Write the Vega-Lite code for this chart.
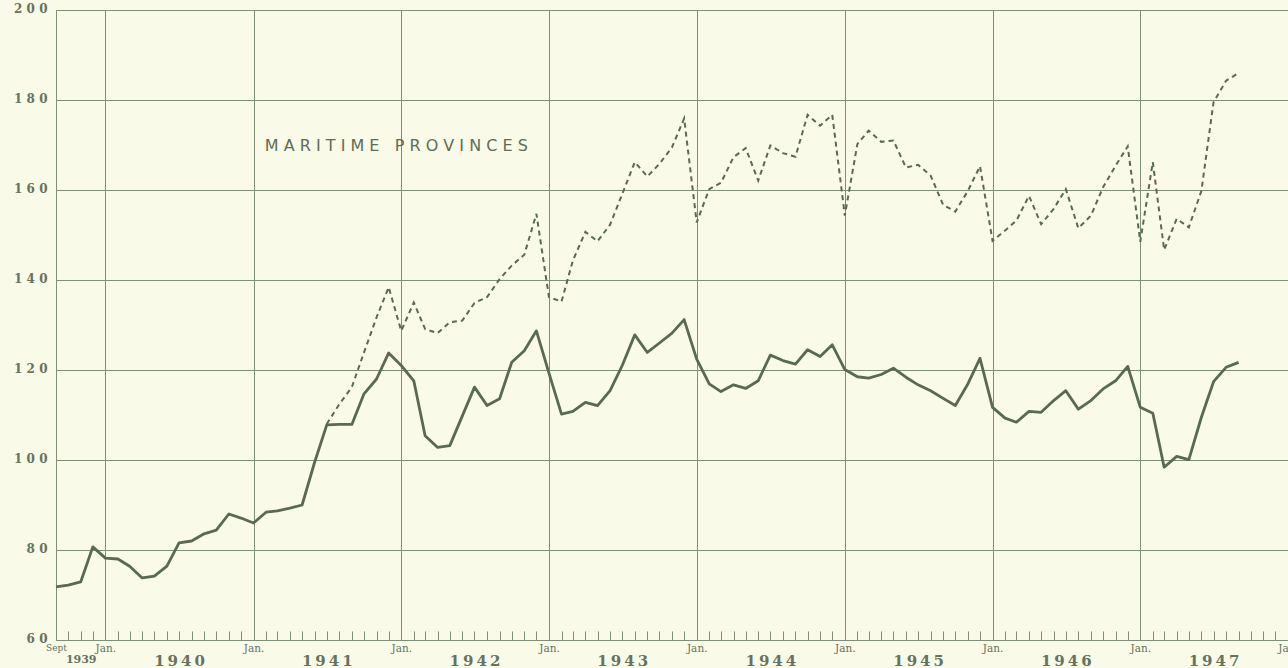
{
  "$schema": "https://vega.github.io/schema/vega-lite/v6.json",
  "width": 1232,
  "height": 630,
  "autosize": {"type": "none"},
  "padding": {"left": 56, "top": 10, "right": 0, "bottom": 28},
  "background": "#f9fae8",
  "config": {"view": {"stroke": null}},
  "datasets": {
    "canada": [
      {"date": "1939-09-01", "value": 71.8},
      {"date": "1939-10-01", "value": 72.2},
      {"date": "1939-11-01", "value": 72.9},
      {"date": "1939-12-01", "value": 80.7},
      {"date": "1940-01-01", "value": 78.2},
      {"date": "1940-02-01", "value": 78.0},
      {"date": "1940-03-01", "value": 76.4},
      {"date": "1940-04-01", "value": 73.8},
      {"date": "1940-05-01", "value": 74.2},
      {"date": "1940-06-01", "value": 76.4},
      {"date": "1940-07-01", "value": 81.6},
      {"date": "1940-08-01", "value": 82.0},
      {"date": "1940-09-01", "value": 83.6},
      {"date": "1940-10-01", "value": 84.4},
      {"date": "1940-11-01", "value": 88.0},
      {"date": "1940-12-01", "value": 87.1},
      {"date": "1941-01-01", "value": 86.0},
      {"date": "1941-02-01", "value": 88.4},
      {"date": "1941-03-01", "value": 88.7},
      {"date": "1941-04-01", "value": 89.3},
      {"date": "1941-05-01", "value": 90.0},
      {"date": "1941-06-01", "value": 99.5},
      {"date": "1941-07-01", "value": 107.8},
      {"date": "1941-08-01", "value": 107.9},
      {"date": "1941-09-01", "value": 107.9},
      {"date": "1941-10-01", "value": 114.7},
      {"date": "1941-11-01", "value": 118.0},
      {"date": "1941-12-01", "value": 123.8},
      {"date": "1942-01-01", "value": 121.0},
      {"date": "1942-02-01", "value": 117.6},
      {"date": "1942-03-01", "value": 105.4},
      {"date": "1942-04-01", "value": 102.8},
      {"date": "1942-05-01", "value": 103.2},
      {"date": "1942-06-01", "value": 109.8},
      {"date": "1942-07-01", "value": 116.2},
      {"date": "1942-08-01", "value": 112.1},
      {"date": "1942-09-01", "value": 113.6},
      {"date": "1942-10-01", "value": 121.7},
      {"date": "1942-11-01", "value": 124.3},
      {"date": "1942-12-01", "value": 128.7},
      {"date": "1943-01-01", "value": 119.3},
      {"date": "1943-02-01", "value": 110.2},
      {"date": "1943-03-01", "value": 110.8},
      {"date": "1943-04-01", "value": 112.8},
      {"date": "1943-05-01", "value": 112.1},
      {"date": "1943-06-01", "value": 115.4},
      {"date": "1943-07-01", "value": 121.0},
      {"date": "1943-08-01", "value": 127.8},
      {"date": "1943-09-01", "value": 123.9},
      {"date": "1943-10-01", "value": 126.0},
      {"date": "1943-11-01", "value": 128.2},
      {"date": "1943-12-01", "value": 131.2},
      {"date": "1944-01-01", "value": 122.4},
      {"date": "1944-02-01", "value": 116.9},
      {"date": "1944-03-01", "value": 115.2},
      {"date": "1944-04-01", "value": 116.7},
      {"date": "1944-05-01", "value": 115.9},
      {"date": "1944-06-01", "value": 117.6},
      {"date": "1944-07-01", "value": 123.3},
      {"date": "1944-08-01", "value": 122.1},
      {"date": "1944-09-01", "value": 121.3},
      {"date": "1944-10-01", "value": 124.5},
      {"date": "1944-11-01", "value": 123.0},
      {"date": "1944-12-01", "value": 125.6},
      {"date": "1945-01-01", "value": 120.1},
      {"date": "1945-02-01", "value": 118.5},
      {"date": "1945-03-01", "value": 118.2},
      {"date": "1945-04-01", "value": 119.0},
      {"date": "1945-05-01", "value": 120.4},
      {"date": "1945-06-01", "value": 118.4},
      {"date": "1945-07-01", "value": 116.7},
      {"date": "1945-08-01", "value": 115.4},
      {"date": "1945-09-01", "value": 113.7},
      {"date": "1945-10-01", "value": 112.1},
      {"date": "1945-11-01", "value": 116.9},
      {"date": "1945-12-01", "value": 122.6},
      {"date": "1946-01-01", "value": 111.7},
      {"date": "1946-02-01", "value": 109.3},
      {"date": "1946-03-01", "value": 108.4},
      {"date": "1946-04-01", "value": 110.8},
      {"date": "1946-05-01", "value": 110.6},
      {"date": "1946-06-01", "value": 113.2},
      {"date": "1946-07-01", "value": 115.4},
      {"date": "1946-08-01", "value": 111.3},
      {"date": "1946-09-01", "value": 113.2},
      {"date": "1946-10-01", "value": 115.8},
      {"date": "1946-11-01", "value": 117.6},
      {"date": "1946-12-01", "value": 120.8},
      {"date": "1947-01-01", "value": 111.7},
      {"date": "1947-02-01", "value": 110.4},
      {"date": "1947-03-01", "value": 98.4},
      {"date": "1947-04-01", "value": 100.8},
      {"date": "1947-05-01", "value": 100.1},
      {"date": "1947-06-01", "value": 109.5},
      {"date": "1947-07-01", "value": 117.4},
      {"date": "1947-08-01", "value": 120.6},
      {"date": "1947-09-01", "value": 121.7}
    ],
    "maritime": [
      {"date": "1941-07-01", "value": 108.0},
      {"date": "1941-08-01", "value": 112.4},
      {"date": "1941-09-01", "value": 116.2},
      {"date": "1941-10-01", "value": 123.9},
      {"date": "1941-11-01", "value": 131.7},
      {"date": "1941-12-01", "value": 138.4},
      {"date": "1942-01-01", "value": 128.7},
      {"date": "1942-02-01", "value": 135.0},
      {"date": "1942-03-01", "value": 129.1},
      {"date": "1942-04-01", "value": 128.2},
      {"date": "1942-05-01", "value": 130.6},
      {"date": "1942-06-01", "value": 131.0},
      {"date": "1942-07-01", "value": 134.9},
      {"date": "1942-08-01", "value": 136.2},
      {"date": "1942-09-01", "value": 140.2},
      {"date": "1942-10-01", "value": 143.2},
      {"date": "1942-11-01", "value": 145.6},
      {"date": "1942-12-01", "value": 154.7},
      {"date": "1943-01-01", "value": 136.2},
      {"date": "1943-02-01", "value": 135.2},
      {"date": "1943-03-01", "value": 144.3},
      {"date": "1943-04-01", "value": 150.7},
      {"date": "1943-05-01", "value": 148.6},
      {"date": "1943-06-01", "value": 152.3},
      {"date": "1943-07-01", "value": 159.1},
      {"date": "1943-08-01", "value": 166.2},
      {"date": "1943-09-01", "value": 163.0},
      {"date": "1943-10-01", "value": 165.8},
      {"date": "1943-11-01", "value": 169.5},
      {"date": "1943-12-01", "value": 175.9},
      {"date": "1944-01-01", "value": 152.8},
      {"date": "1944-02-01", "value": 160.2},
      {"date": "1944-03-01", "value": 161.6},
      {"date": "1944-04-01", "value": 167.3},
      {"date": "1944-05-01", "value": 169.3},
      {"date": "1944-06-01", "value": 162.1},
      {"date": "1944-07-01", "value": 169.9},
      {"date": "1944-08-01", "value": 168.2},
      {"date": "1944-09-01", "value": 167.4},
      {"date": "1944-10-01", "value": 176.7},
      {"date": "1944-11-01", "value": 174.3},
      {"date": "1944-12-01", "value": 176.7},
      {"date": "1945-01-01", "value": 154.3},
      {"date": "1945-02-01", "value": 170.2},
      {"date": "1945-03-01", "value": 173.2},
      {"date": "1945-04-01", "value": 170.7},
      {"date": "1945-05-01", "value": 171.0},
      {"date": "1945-06-01", "value": 165.0},
      {"date": "1945-07-01", "value": 165.6},
      {"date": "1945-08-01", "value": 163.2},
      {"date": "1945-09-01", "value": 156.7},
      {"date": "1945-10-01", "value": 155.2},
      {"date": "1945-11-01", "value": 159.8},
      {"date": "1945-12-01", "value": 165.3},
      {"date": "1946-01-01", "value": 148.7},
      {"date": "1946-02-01", "value": 151.0},
      {"date": "1946-03-01", "value": 153.2},
      {"date": "1946-04-01", "value": 158.7},
      {"date": "1946-05-01", "value": 152.4},
      {"date": "1946-06-01", "value": 155.8},
      {"date": "1946-07-01", "value": 160.2},
      {"date": "1946-08-01", "value": 151.5},
      {"date": "1946-09-01", "value": 154.3},
      {"date": "1946-10-01", "value": 160.6},
      {"date": "1946-11-01", "value": 165.4},
      {"date": "1946-12-01", "value": 169.7},
      {"date": "1947-01-01", "value": 148.5},
      {"date": "1947-02-01", "value": 166.2},
      {"date": "1947-03-01", "value": 146.7},
      {"date": "1947-04-01", "value": 153.6},
      {"date": "1947-05-01", "value": 151.7},
      {"date": "1947-06-01", "value": 159.8},
      {"date": "1947-07-01", "value": 179.5},
      {"date": "1947-08-01", "value": 184.3},
      {"date": "1947-09-01", "value": 186.0}
    ],
    "notes": [
      {"date": "1941-01-29", "value": 169.8, "label": "M A R I T I M E\u00a0\u00a0\u00a0P R O V I N C E S"}
    ]
  },
  "resolve": {"axis": {"x": "independent"}},
  "layer": [
    {
      "data": {"name": "canada"},
      "mark": {"type": "line", "color": "#5a6954", "strokeWidth": 2.8, "strokeJoin": "round"},
      "encoding": {
        "x": {
          "field": "date", "type": "temporal",
          "scale": {"type": "utc", "nice": false, "domain": [{"year": 1939, "month": 9, "date": 1, "utc": true}, {"year": 1948, "month": 1, "date": 1, "utc": true}]},
          "axis": {"orient": "bottom", "title": null, "tickCount": {"interval": "month", "step": 1}, "tickSize": -9, "tickColor": "#7f8e77", "tickWidth": 1, "labels": false, "grid": false, "domain": true, "domainColor": "#7f8e77", "domainWidth": 1}
        },
        "y": {
          "field": "value", "type": "quantitative",
          "scale": {"domain": [60, 200], "nice": false, "zero": false},
          "axis": {"title": null, "values": [60, 80, 100, 120, 140, 160, 180, 200], "grid": true, "gridColor": "#7f8e77", "gridWidth": 1, "ticks": false, "domain": true, "domainColor": "#7f8e77", "labelPadding": 9, "labelFont": "DejaVu Serif", "labelFontWeight": "bold", "labelFontSize": 12, "labelColor": "#66735f", "labelOffset": -2, "labelExpr": "join(split(datum.label, ''), '\u00a0')"}
        }
      }
    },
    {
      "data": {"name": "maritime"},
      "mark": {"type": "line", "color": "#5a6954", "strokeWidth": 2, "strokeDash": [5, 4]},
      "encoding": {
        "x": {
          "field": "date", "type": "temporal",
          "axis": {"orient": "bottom", "title": null, "values": [
            {"year": 1939, "month": 9, "date": 1, "utc": true},
            {"year": 1940, "month": 1, "date": 1, "utc": true},
            {"year": 1941, "month": 1, "date": 1, "utc": true},
            {"year": 1942, "month": 1, "date": 1, "utc": true},
            {"year": 1943, "month": 1, "date": 1, "utc": true},
            {"year": 1944, "month": 1, "date": 1, "utc": true},
            {"year": 1945, "month": 1, "date": 1, "utc": true},
            {"year": 1946, "month": 1, "date": 1, "utc": true},
            {"year": 1947, "month": 1, "date": 1, "utc": true},
            {"year": 1948, "month": 1, "date": 1, "utc": true}
          ], "grid": true, "gridColor": "#7f8e77", "gridWidth": 1, "ticks": false, "domain": false, "labelFlush": false, "labelOverlap": false, "labelBound": false, "labelPadding": 3, "labelFont": "DejaVu Serif", "labelColor": "#66735f", "labelFontSize": {"condition": {"test": "utcmonth(datum.value) == 8", "value": 9}, "value": 10.5}, "labelExpr": "utcmonth(datum.value) == 8 ? 'Sept' : 'Jan.'"}
        },
        "y": {"field": "value", "type": "quantitative"}
      }
    },
    {
      "data": {"name": "notes"},
      "mark": {"type": "text", "align": "left", "baseline": "middle", "font": "DejaVu Sans", "fontSize": 16, "color": "#5f6d58"},
      "encoding": {
        "x": {
          "field": "date", "type": "temporal",
          "axis": {"orient": "bottom", "title": null, "values": [
            {"year": 1939, "month": 11, "date": 1, "utc": true},
            {"year": 1940, "month": 7, "date": 1, "utc": true},
            {"year": 1941, "month": 7, "date": 1, "utc": true},
            {"year": 1942, "month": 7, "date": 1, "utc": true},
            {"year": 1943, "month": 7, "date": 1, "utc": true},
            {"year": 1944, "month": 7, "date": 1, "utc": true},
            {"year": 1945, "month": 7, "date": 1, "utc": true},
            {"year": 1946, "month": 7, "date": 1, "utc": true},
            {"year": 1947, "month": 7, "date": 1, "utc": true}
          ], "grid": false, "ticks": false, "domain": false, "labelFlush": false, "labelOverlap": false, "labelBound": false, "labelPadding": 13, "labelFont": "DejaVu Serif", "labelFontWeight": "bold", "labelColor": "#66735f", "labelFontSize": {"condition": {"test": "utcyear(datum.value) == 1939", "value": 11}, "value": 15}, "labelExpr": "utcyear(datum.value) == 1939 ? '1939' : join(split('' + utcyear(datum.value), ''), '\u2009')"}
        },
        "y": {"field": "value", "type": "quantitative"},
        "text": {"field": "label"}
      }
    }
  ]
}
